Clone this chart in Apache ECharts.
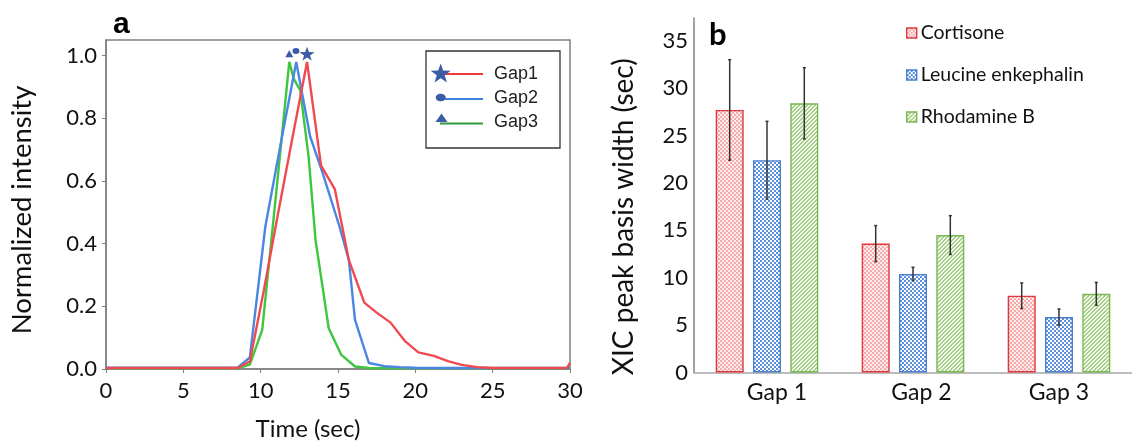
<!DOCTYPE html>
<html>
<head>
<meta charset="utf-8">
<script src="https://cdn.jsdelivr.net/npm/echarts@6/dist/echarts.min.js"></script>
<style>
  html, body { margin: 0; padding: 0; background: #ffffff; }
  #chart { width: 1132px; height: 446px; }
</style>
</head>
<body>
<div id="chart"></div>
<script>
// ---------------- Panel a data: [time (sec), normalized intensity] ----------------
const gap1Curve = [[0,0.003],[8.5,0.003],[9.3,0.024],[10.2,0.25],[11.1,0.49],[12.1,0.75],[13.0,0.98],[13.9,0.65],[14.8,0.573],[15.7,0.348],[16.7,0.212],[17.5,0.18],[18.4,0.148],[19.35,0.088],[20.2,0.053],[21.2,0.042],[22.1,0.025],[23.0,0.013],[24.0,0.006],[25.0,0.003],[29.8,0.003],[30,0.02]];
const gap2Curve = [[0,0.004],[8.5,0.004],[9.3,0.037],[10.3,0.454],[11.3,0.72],[12.3,0.98],[13.2,0.742],[14.0,0.627],[15.1,0.454],[15.7,0.348],[16.1,0.157],[17.0,0.019],[18.0,0.009],[19.0,0.006],[20.0,0.004],[22.0,0.003],[30,0.003]];
const gap3Curve = [[0,0.002],[8.5,0.002],[9.3,0.014],[10.1,0.125],[11.0,0.56],[11.85,0.98],[12.15,0.925],[12.56,0.889],[13.1,0.677],[13.55,0.411],[14.4,0.13],[15.2,0.046],[16.1,0.008],[17.0,0.003],[30,0.002]];
const curveNames = ['Gap1', 'Gap2', 'Gap3'];
// peak marker positions [time, level]
const peakMarkers = [[13.0, 1.006], [12.28, 1.015], [11.85, 1.006]];
const timeTicks = [0, 5, 10, 15, 20, 25, 30];

// ---------------- Panel b data ----------------
const gapCategories = ['Gap 1', 'Gap 2', 'Gap 3'];
const compoundNames = ['Cortisone', 'Leucine enkephalin', 'Rhodamine B'];
const cortisoneWidth = [27.7, 13.6, 8.1];
const cortisoneErr = [5.3, 1.9, 1.35];
const leucineWidth = [22.4, 10.4, 5.85];
const leucineErr = [4.1, 0.7, 0.85];
const rhodamineWidth = [28.4, 14.5, 8.3];
const rhodamineErr = [3.75, 2.05, 1.2];
const widthTicks = [0, 5, 10, 15, 20, 25, 30, 35];

// ---------------- styling helpers ----------------
const LINE_COLORS = ['#f04a50', '#4a86e2', '#3ec63e'];
const MARK_BLUE = '#3a5ca6';
const BAR_W = 28, BAR_GAP_PX = 9.3;

function makePattern(kind) {
  const c = document.createElement('canvas');
  const ctx = c.getContext('2d');
  c.width = 4; c.height = 4;
  if (kind === 'red') {
    ctx.fillStyle = '#fdeeee'; ctx.fillRect(0, 0, 4, 4);
    ctx.fillStyle = '#f6aaaa';
    ctx.fillRect(0, 0, 2, 2); ctx.fillRect(2, 2, 2, 2);
  } else if (kind === 'blue') {
    ctx.fillStyle = '#ffffff'; ctx.fillRect(0, 0, 4, 4);
    ctx.fillStyle = '#5d8fdb';
    ctx.fillRect(0, 0, 2, 2); ctx.fillRect(2, 2, 2, 2);
  } else {
    ctx.fillStyle = '#f3f9ee'; ctx.fillRect(0, 0, 4, 4);
    ctx.fillStyle = '#a6d08a';
    for (let i = 0; i < 4; i++) { ctx.fillRect(i, 3 - i, 1, 1); ctx.fillRect((i + 1) % 4, 3 - i, 1, 1); }
  }
  return { image: c, repeat: 'repeat' };
}

function starPoints(cx, cy, R) {
  const pts = [];
  for (let k = 0; k < 10; k++) {
    const r = k % 2 === 0 ? R : R * 0.4;
    const a = -Math.PI / 2 + k * Math.PI / 5;
    pts.push([cx + r * Math.cos(a), cy + r * Math.sin(a)]);
  }
  return pts;
}
const starPath = 'path://' + starPoints(50, 50, 50).map((p, i) => (i ? 'L' : 'M') + p[0].toFixed(2) + ' ' + p[1].toFixed(2)).join(' ') + ' Z';

const curves = [gap1Curve, gap2Curve, gap3Curve];
const markerSymbols = [starPath, 'circle', 'triangle'];
const markerSizes = [[15, 14], [7, 6], [8, 7]];

const fillPatterns = [makePattern('red'), makePattern('blue'), makePattern('green')];
const barBorders = ['#e0383e', '#4a7fd0', '#7ab651'];
const barValues = [cortisoneWidth, leucineWidth, rhodamineWidth];
const barErrors = [cortisoneErr, leucineErr, rhodamineErr];
const xLabelShift = [20, 17, 0];

const series = [];
curves.forEach((data, i) => {
  series.push({
    name: curveNames[i], type: 'line', xAxisIndex: 0, yAxisIndex: 0,
    data: data, showSymbol: false, symbol: 'none',
    lineStyle: { color: LINE_COLORS[i], width: 2.4 },
    itemStyle: { color: LINE_COLORS[i] }, z: 3 - i + 2, animation: false
  });
});
peakMarkers.forEach((p, i) => {
  series.push({
    type: 'scatter', xAxisIndex: 0, yAxisIndex: 0, data: [p],
    symbol: markerSymbols[i], symbolSize: markerSizes[i],
    itemStyle: { color: MARK_BLUE, opacity: 1 }, silent: true, z: 6, animation: false
  });
});
barValues.forEach((vals, i) => {
  series.push({
    name: compoundNames[i], type: 'bar', xAxisIndex: 1, yAxisIndex: 1,
    data: vals, barWidth: BAR_W, barGap: (BAR_GAP_PX / BAR_W * 100).toFixed(1) + '%',
    itemStyle: { color: fillPatterns[i], borderColor: barBorders[i], borderWidth: 1.4 },
    animation: false
  });
});
barValues.forEach((vals, i) => {
  const errs = barErrors[i];
  series.push({
    type: 'custom', xAxisIndex: 1, yAxisIndex: 1, z: 10, animation: false,
    data: vals.map((v, j) => [j, v - errs[j], v + errs[j]]),
    encode: { x: 0, y: [1, 2] },
    renderItem: function (params, api) {
      const x = api.value(0);
      const lo = api.coord([x, api.value(1)]);
      const hi = api.coord([x, api.value(2)]);
      const cx = lo[0] + (i - 1) * (BAR_W + BAR_GAP_PX);
      const st = { stroke: '#333333', lineWidth: 1.5 };
      return { type: 'group', children: [
        { type: 'line', shape: { x1: cx, y1: lo[1], x2: cx, y2: hi[1] }, style: st },
        { type: 'line', shape: { x1: cx - 1.5, y1: lo[1], x2: cx + 1.5, y2: lo[1] }, style: st },
        { type: 'line', shape: { x1: cx - 1.5, y1: hi[1], x2: cx + 1.5, y2: hi[1] }, style: st }
      ]};
    }
  });
});

// panel a legend (graphic)
const LEG_FONT = '18px "Liberation Sans", Arial, sans-serif';
const legendA = [
  { type: 'rect', shape: { x: 426, y: 51, width: 134, height: 97 }, style: { fill: '#fff', stroke: '#333', lineWidth: 1.3 }, z: 20 },
  { type: 'line', shape: { x1: 443, y1: 74, x2: 483, y2: 74 }, style: { stroke: '#f03a3a', lineWidth: 2.2 }, z: 21 },
  { type: 'polygon', shape: { points: starPoints(440.7, 74, 10.5) }, style: { fill: MARK_BLUE }, z: 22 },
  { type: 'text', style: { text: curveNames[0], x: 494, y: 74, font: LEG_FONT, fill: '#222', verticalAlign: 'middle' }, z: 22 },
  { type: 'line', shape: { x1: 443, y1: 99, x2: 483, y2: 99 }, style: { stroke: '#3d82e0', lineWidth: 2.2 }, z: 21 },
  { type: 'ellipse', shape: { cx: 440.7, cy: 97.5, rx: 5, ry: 3.8 }, style: { fill: MARK_BLUE }, z: 22 },
  { type: 'text', style: { text: curveNames[1], x: 494, y: 98, font: LEG_FONT, fill: '#222', verticalAlign: 'middle' }, z: 22 },
  { type: 'line', shape: { x1: 440, y1: 123.5, x2: 483, y2: 123.5 }, style: { stroke: '#2f9a3f', lineWidth: 2.2 }, z: 21 },
  { type: 'polygon', shape: { points: [[441.5, 113.5], [447.5, 122], [435.5, 122]] }, style: { fill: MARK_BLUE }, z: 22 },
  { type: 'text', style: { text: curveNames[2], x: 494, y: 122, font: LEG_FONT, fill: '#222', verticalAlign: 'middle' }, z: 22 }
];

const chart = echarts.init(document.getElementById('chart'), null, { renderer: 'canvas' });
chart.setOption({
  animation: false,
  backgroundColor: '#ffffff',
  textStyle: { fontFamily: 'Lato, sans-serif' },
  title: [
    { text: 'a', left: 108, top: 5, textStyle: { fontFamily: '"Liberation Sans", Arial, sans-serif', fontWeight: 'bold', fontSize: 30, color: '#000' } },
    { text: 'b', left: 704, top: 14, textStyle: { fontFamily: 'Lato, sans-serif', fontWeight: 'bold', fontSize: 31, color: '#000' } }
  ],
  legend: {
    data: compoundNames, orient: 'vertical', left: 901, top: 18,
    itemWidth: 10, itemHeight: 10, itemGap: 22, icon: 'rect',
    itemStyle: { borderWidth: 1.4 },
    textStyle: { fontFamily: 'Lato, sans-serif', fontSize: 19.5, color: '#111', padding: [0, 0, 0, -1] },
    selectedMode: false
  },
  grid: [
    { left: 106, top: 40, width: 464, height: 330, show: true, borderColor: '#808080', borderWidth: 1.5, backgroundColor: 'transparent' },
    { left: 694, top: 18, width: 443, height: 354.5 }
  ],
  xAxis: [
    { type: 'value', gridIndex: 0, min: timeTicks[0], max: timeTicks[timeTicks.length - 1], interval: 5,
      name: 'Time (sec)', nameLocation: 'middle', nameGap: 48,
      nameTextStyle: { fontFamily: 'Lato, sans-serif', fontSize: 24, color: '#111', padding: [0, 60, 0, 0] },
      axisLine: { show: true, lineStyle: { color: '#808080', width: 1.5 } },
      axisTick: { show: true, length: 4, lineStyle: { color: '#808080' } },
      axisLabel: { fontFamily: 'Lato, sans-serif', fontSize: 22, color: '#111', margin: 11 },
      splitLine: { show: false } },
    { type: 'category', gridIndex: 1, data: gapCategories,
      axisLine: { show: true, lineStyle: { color: '#a6a6a6', width: 1.5 } },
      axisTick: { show: true, alignWithLabel: true, length: 3, lineStyle: { color: '#d0d0d0' } },
      axisLabel: { fontFamily: 'Lato, sans-serif', fontSize: 23, color: '#111', margin: 9 },
      splitLine: { show: false } }
  ],
  yAxis: [
    { type: 'value', gridIndex: 0, min: 0, max: 1.05, interval: 0.2,
      name: 'Normalized intensity', nameLocation: 'middle', nameGap: 70,
      nameTextStyle: { fontFamily: 'Lato, sans-serif', fontSize: 27.5, color: '#111', padding: [0, 11, 0, 0] },
      axisLine: { show: true, lineStyle: { color: '#808080', width: 1.5 } },
      axisTick: { show: true, length: 4, lineStyle: { color: '#808080' } },
      axisLabel: { fontFamily: 'Lato, sans-serif', fontSize: 22, color: '#111', margin: 9, showMaxLabel: false,
        formatter: function (v) { return v.toFixed(1); } },
      splitLine: { show: false } },
    { type: 'value', gridIndex: 1, min: widthTicks[0], max: 37.4, interval: 5,
      name: 'XIC peak basis width (sec)', nameLocation: 'middle', nameGap: 56,
      nameTextStyle: { fontFamily: 'Lato, sans-serif', fontSize: 28, color: '#111', padding: [0, 43, 0, 0] },
      axisLine: { show: true, lineStyle: { color: '#808080', width: 1.5 } },
      axisTick: { show: false },
      axisLabel: { fontFamily: 'Lato, sans-serif', fontSize: 22, color: '#111', margin: 6, showMaxLabel: false,
        verticalAlign: 'middle', padding: [0, 0, 16, 0] },
      splitLine: { show: false } }
  ],
  series: series,
  graphic: legendA
});
// per-category horizontal label nudge (matches reference label placement)
chart.setOption({ xAxis: [{}, { data: gapCategories.map((c, i) => ({ value: c, textStyle: { padding: [0, 0, 0, xLabelShift[i]] } })) }] });
</script>
</body>
</html>
